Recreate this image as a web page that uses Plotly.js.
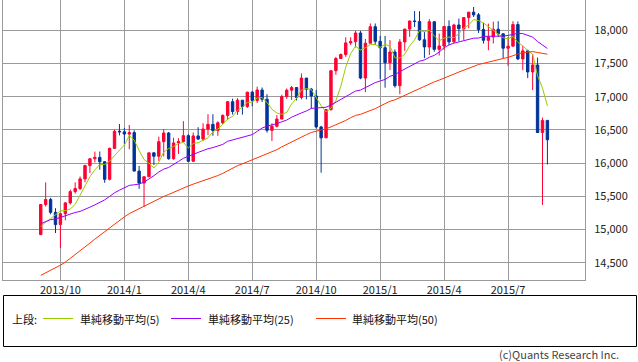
<!DOCTYPE html>
<html>
<head>
<meta charset="utf-8">
<script src="https://cdn.plot.ly/plotly-3.0.1.min.js"></script>
<style>
html,body{margin:0;padding:0;background:#fff;}
#chart{width:638px;height:362px;}
</style>
</head>
<body>
<div id="chart"></div>
<script>
// Weekly candles (week starting Monday)
const weeks = [
"2013-09-09","2013-09-16","2013-09-23","2013-09-30","2013-10-07","2013-10-14","2013-10-21","2013-10-28","2013-11-04","2013-11-11",
"2013-11-18","2013-11-25","2013-12-02","2013-12-09","2013-12-16","2013-12-23","2013-12-30","2014-01-06","2014-01-13","2014-01-20",
"2014-01-27","2014-02-03","2014-02-10","2014-02-17","2014-02-24","2014-03-03","2014-03-10","2014-03-17","2014-03-24","2014-03-31",
"2014-04-07","2014-04-14","2014-04-21","2014-04-28","2014-05-05","2014-05-12","2014-05-19","2014-05-26","2014-06-02","2014-06-09",
"2014-06-16","2014-06-23","2014-06-30","2014-07-07","2014-07-14","2014-07-21","2014-07-28","2014-08-04","2014-08-11","2014-08-18",
"2014-08-25","2014-09-01","2014-09-08","2014-09-15","2014-09-22","2014-09-29","2014-10-06","2014-10-13","2014-10-20","2014-10-27",
"2014-11-03","2014-11-10","2014-11-17","2014-11-24","2014-12-01","2014-12-08","2014-12-15","2014-12-22","2014-12-29","2015-01-05",
"2015-01-12","2015-01-19","2015-01-26","2015-02-02","2015-02-09","2015-02-16","2015-02-23","2015-03-02","2015-03-09","2015-03-16",
"2015-03-23","2015-03-30","2015-04-06","2015-04-13","2015-04-20","2015-04-27","2015-05-04","2015-05-11","2015-05-18","2015-05-25",
"2015-06-01","2015-06-08","2015-06-15","2015-06-22","2015-06-29","2015-07-06","2015-07-13","2015-07-20","2015-07-27","2015-08-03",
"2015-08-10","2015-08-17","2015-08-24","2015-08-31"];

const openV = [
14922,15376,15451,15258,15073,15237,15400,15570,15616,15762,
15962,16065,16086,16020,15755,16221,16478,16470,16437,16459,
15879,15699,15794,16154,16103,16322,16453,16066,16303,16323,
16413,16027,16409,16361,16513,16583,16491,16606,16717,16924,
16776,16947,16852,17068,16944,17100,16961,16493,16554,16663,
17001,17098,17137,16988,17280,17113,17010,16544,16380,16805,
17391,17574,17635,17810,17828,17959,17281,17805,18054,17833,
17737,17512,17673,17165,17824,18019,18140,18133,17857,17749,
18128,17713,17763,18058,17826,18080,18024,18191,18273,18232,
18011,17849,17899,18016,17947,17730,17760,18086,17569,17690,
17373,17477,16460,16643];

const highV = [
15382,15709,15477,15320,15249,15413,15600,15710,15798,15976,
16073,16174,16175,16030,16234,16504,16588,16530,16574,16494,
15957,15800,16155,16164,16398,16510,16468,16380,16373,16631,
16435,16460,16540,16600,16736,16735,16630,16735,16935,16970,
16978,16950,17074,17087,17151,17138,17038,16600,16723,17030,
17123,17161,17144,17350,17280,17132,17100,16560,16810,17395,
17600,17650,17895,17895,17991,17991,17870,18103,18103,17916,
17915,17852,17712,17868,18019,18144,18289,18288,17975,18168,
18133,17950,18060,18150,18100,18176,18200,18273,18351,18260,
18110,18100,18130,18137,17950,17900,18137,18133,17760,17708,
17640,17587,16684,16643];

const lowV = [
14922,15345,15229,14946,14719,15138,15376,15541,15593,15711,
15852,16010,15900,15703,15739,16221,16417,16278,16208,15879,
15612,15340,15794,15970,16033,16100,16050,16050,16138,16323,
16015,16015,16350,16330,16420,16412,16410,16585,16650,16731,
16725,16730,16830,16856,16906,16920,16460,16333,16538,16663,
16968,16951,16944,16960,16960,16820,16520,15855,16380,16790,
17330,17570,17600,17779,17741,17263,17068,17805,17780,17262,
17136,17400,17136,17037,17690,17900,18050,17840,17580,17628,
17678,17620,17704,17777,17810,17840,17855,18030,18200,17960,
17800,17700,17800,17900,17580,17465,17760,17550,17399,17280,
17100,16459,15370,15979];

const closeV = [
15376,15451,15258,15073,15237,15400,15570,15616,15762,15962,
16065,16086,16020,15755,16221,16478,16470,16437,16459,15879,
15699,15794,16154,16103,16322,16453,16066,16303,16323,16413,
16027,16409,16361,16513,16583,16491,16606,16717,16924,16776,
16947,16852,17068,16944,17100,16961,16493,16554,16663,17001,
17098,17137,16988,17280,17113,17010,16544,16380,16805,17391,
17574,17635,17810,17828,17959,17281,17805,18054,17833,17737,
17512,17673,17165,17824,18019,18140,18133,17857,17749,18128,
17713,17763,18058,17826,18080,18024,18191,18273,18232,18011,
17849,17899,18016,17947,17730,17760,18086,17569,17690,17373,
17477,16460,16643,16351];

const ma5 = [
15040,15114,15163,15216,15279,15284,15308,15379,15517,15662,
15795,15898,15979,15978,16029,16112,16189,16272,16413,16345,
16189,16054,15997,15926,16014,16165,16220,16249,16293,16312,
16226,16295,16307,16345,16379,16471,16511,16582,16664,16703,
16794,16843,16913,16917,16982,16985,16913,16810,16754,16734,
16762,16891,16977,17101,17123,17106,16987,16865,16770,16826,
16939,17157,17443,17648,17761,17703,17737,17785,17786,17742,
17788,17762,17584,17582,17639,17764,17856,17995,17980,18001,
17916,17842,17882,17898,17888,17950,18036,18079,18160,18146,
18111,18053,18001,17944,17888,17870,17908,17818,17767,17696,
17639,17314,17129,16861];

const ma25 = [
15086,15121,15148,15157,15184,15212,15236,15256,15272,15298,
15336,15370,15408,15446,15498,15552,15592,15628,15664,15673,
15684,15712,15758,15810,15866,15909,15934,15975,16025,16072,
16097,16131,16161,16191,16216,16233,16254,16281,16328,16350,
16369,16384,16410,16429,16478,16528,16556,16572,16595,16622,
16648,16691,16718,16756,16784,16824,16829,16830,16841,16874,
16917,16958,17002,17038,17085,17099,17137,17176,17212,17237,
17259,17307,17331,17377,17418,17460,17500,17534,17553,17594,
17622,17671,17738,17779,17806,17824,17846,17865,17881,17883,
17906,17910,17908,17913,17912,17922,17939,17955,17950,17924,
17897,17830,17782,17726];

const ma50 = [
14309,14346,14384,14419,14462,14508,14563,14623,14679,14737,
14795,14854,14911,14967,15023,15083,15139,15190,15239,15277,
15311,15347,15388,15422,15459,15497,15527,15562,15591,15628,
15655,15683,15708,15731,15757,15785,15812,15845,15887,15924,
15961,15988,16019,16047,16075,16106,16134,16165,16202,16244,
16278,16312,16347,16391,16428,16461,16480,16495,16516,16545,
16575,16606,16642,16683,16718,16734,16761,16793,16820,16858,
16894,16931,16952,16986,17020,17054,17095,17126,17155,17189,
17223,17250,17284,17310,17340,17371,17402,17433,17460,17484,
17502,17523,17542,17562,17575,17591,17623,17643,17664,17671,
17679,17665,17658,17640];

const xTickVals = ["2013-10-07","2014-01-06","2014-04-07","2014-07-07","2014-10-06","2015-01-05","2015-04-06","2015-07-06"];
const xTickText = ["2013/10","2014/1","2014/4","2014/7","2014/10","2015/1","2015/4","2015/7"];
const yTickVals = [14500,15000,15500,16000,16500,17000,17500,18000];
const yTickText = ["14,500","15,000","15,500","16,000","16,500","17,000","17,500","18,000"];

const legendLabels = ["単純移動平均(5)","単純移動平均(25)","単純移動平均(50)"];
const maColors = ["#99CC00","#9900FF","#FF3300"];

const FONT = "'Noto Sans CJK JP', 'DejaVu Sans', sans-serif";
const UP = "#FF0033", DOWN = "#003399";

const traces = [
  {
    type: "candlestick", x: weeks, open: openV, high: highV, low: lowV, close: closeV,
    increasing: {line: {color: UP, width: 1}, fillcolor: UP},
    decreasing: {line: {color: DOWN, width: 1}, fillcolor: DOWN},
    whiskerwidth: 0, hoverinfo: "skip", showlegend: false
  },
  {type: "scatter", mode: "lines", x: weeks, y: ma5, name: legendLabels[0], line: {color: maColors[0], width: 1}, showlegend: false, hoverinfo: "skip"},
  {type: "scatter", mode: "lines", x: weeks, y: ma25, name: legendLabels[1], line: {color: maColors[1], width: 1}, showlegend: false, hoverinfo: "skip"},
  {type: "scatter", mode: "lines", x: weeks, y: ma50, name: legendLabels[2], line: {color: maColors[2], width: 1}, showlegend: false, hoverinfo: "skip"}
];

// pixel helpers for the legend box below the plot (plot area: x 3..585, y 0..280)
const PL = 3, PW = 582, PH = 280;
const px = v => (v - PL) / PW;
const py = v => (PH - v) / PH;

const legendLineX = [[43, 73], [171, 201], [316, 346]];
const legendTextX = [78, 206, 350];
const LY = 318.5;

const shapes = [
  {type: "rect", xref: "paper", yref: "paper", x0: px(3.5), x1: px(636.5), y0: py(295.5), y1: py(346.5),
   line: {color: "#000", width: 1}, fillcolor: "rgba(0,0,0,0)"}
];
const annotations = [
  {xref: "paper", yref: "paper", x: px(10), y: py(LY), xanchor: "left", yanchor: "middle", showarrow: false,
   text: "上段:", font: {family: FONT, size: 11, color: "#111"}},
  {xref: "paper", yref: "paper", x: px(621), y: py(353.5), xanchor: "right", yanchor: "middle", showarrow: false,
   text: "(c)Quants Research Inc.", font: {family: FONT, size: 11, color: "#444"}}
];
for (let i = 0; i < 3; i++) {
  shapes.push({type: "line", xref: "paper", yref: "paper", x0: px(legendLineX[i][0]), x1: px(legendLineX[i][1]),
    y0: py(LY), y1: py(LY), line: {color: maColors[i], width: 1}});
  annotations.push({xref: "paper", yref: "paper", x: px(legendTextX[i]), y: py(LY), xanchor: "left", yanchor: "middle",
    showarrow: false, text: legendLabels[i], font: {family: FONT, size: 11, color: "#111"}});
}

const layout = {
  width: 638, height: 362,
  margin: {l: 3, r: 53, t: 0, b: 82, pad: 0},
  paper_bgcolor: "#fff", plot_bgcolor: "#fff",
  showlegend: false, hovermode: false,
  font: {family: FONT, size: 11, color: "#222"},
  xaxis: {
    type: "date", range: ["2013-07-17 07:00", "2015-10-23 12:00"],
    tickmode: "array", tickvals: xTickVals, ticktext: xTickText,
    showgrid: true, gridcolor: "#9a9a9a", gridwidth: 1,
    showline: true, linecolor: "#9a9a9a", linewidth: 1, mirror: false,
    ticks: "", zeroline: false, rangeslider: {visible: false},
    tickfont: {family: FONT, size: 11, color: "#222"}
  },
  yaxis: {
    side: "right", range: [14239, 18456],
    tickmode: "array", tickvals: yTickVals, ticktext: yTickText,
    showgrid: true, gridcolor: "#9a9a9a", gridwidth: 1,
    showline: true, linecolor: "#9a9a9a", linewidth: 1, mirror: true,
    ticks: "", zeroline: false, ticklabelstandoff: 6,
    tickfont: {family: FONT, size: 11, color: "#222"}
  },
  shapes: shapes,
  annotations: annotations
};

Plotly.newPlot("chart", traces, layout, {staticPlot: true, displayModeBar: false});
</script>
</body>
</html>
